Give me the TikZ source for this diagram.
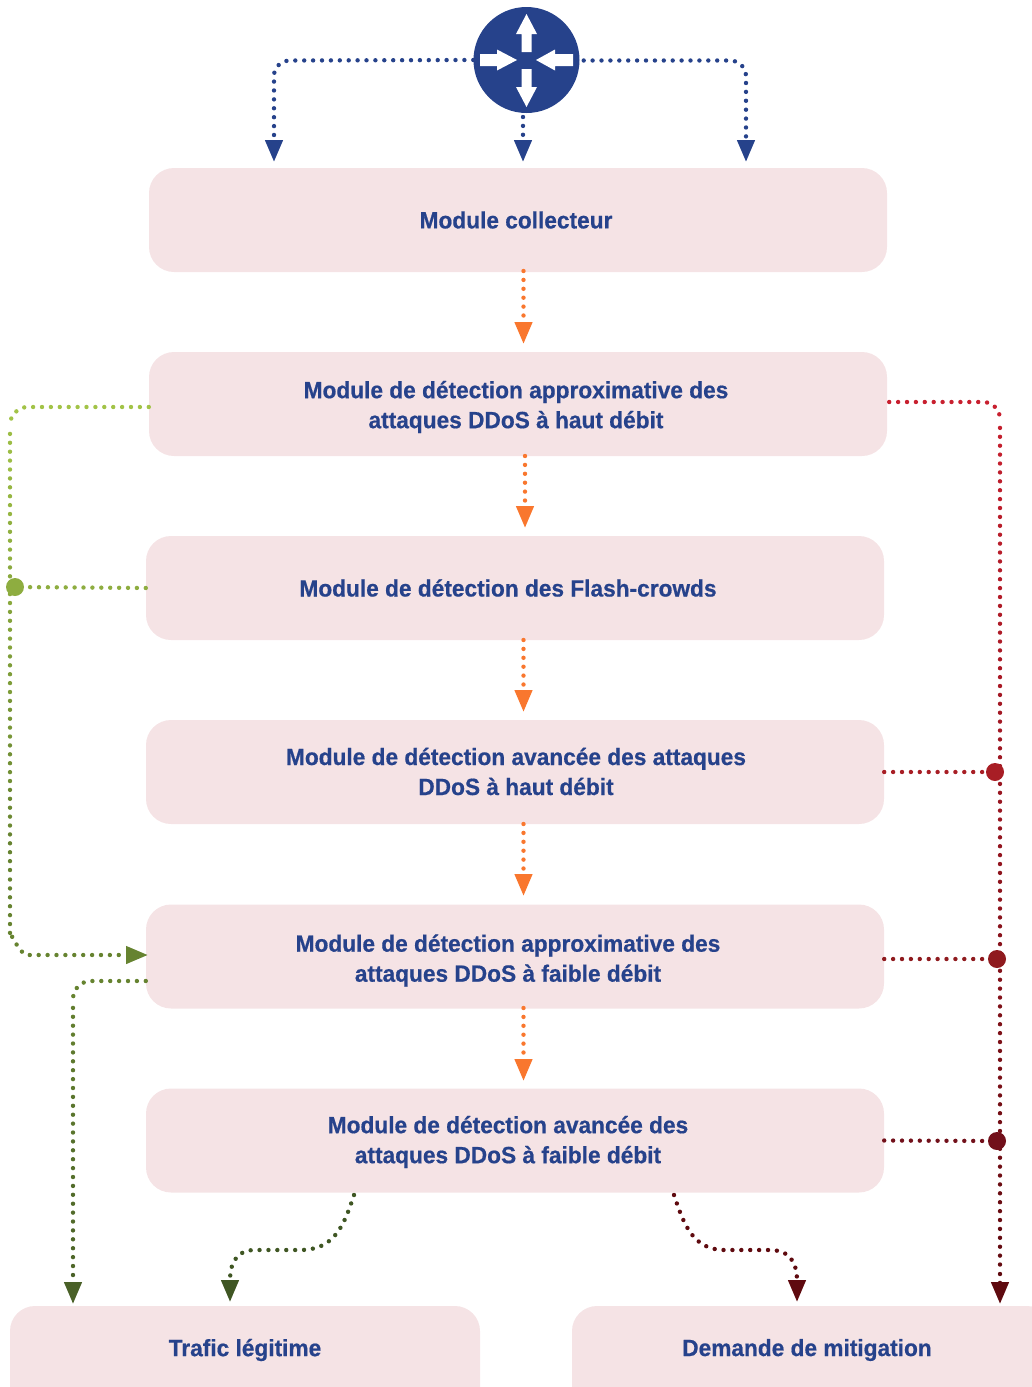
\documentclass[tikz,border=0pt]{standalone}
\usepackage{fontspec}
\setmainfont[BoldFeatures={FakeStretch=0.965,FakeBold=0.6}]{Liberation Sans}
\usetikzlibrary{arrows.meta}
\definecolor{bluec}{HTML}{26428B}
\definecolor{boxc}{HTML}{F5E3E5}
\definecolor{orangec}{HTML}{F9772E}
\definecolor{g1}{HTML}{A2C347}
\definecolor{g2}{HTML}{8EAD40}
\definecolor{g4}{HTML}{668330}
\definecolor{g6}{HTML}{4A6128}
\definecolor{g7}{HTML}{3F5623}
\definecolor{r1}{HTML}{C8202F}
\definecolor{r2}{HTML}{A81E25}
\definecolor{r3}{HTML}{8F1A1E}
\definecolor{r4}{HTML}{72101A}
\definecolor{r5}{HTML}{5F0A0F}
\tikzset{
  x=1pt,y=-1pt,
  modbox/.style={fill=boxc,draw=none,rounded corners=25pt,minimum width=738pt,minimum height=104pt,inner sep=0pt},
  endbox/.style={fill=boxc,draw=none,rounded corners=25pt,inner sep=0pt},
  lab/.style={text=bluec,font=\bfseries\fontsize{23.5}{30}\selectfont,align=center,inner sep=0pt},
  dots/.style={line width=4.4pt,line cap=round,dash pattern=on 0pt off 8.9pt},
  tip/.style={-{Triangle[width=17pt,length=22pt]}},
  junc/.style={circle,inner sep=0pt,minimum size=18pt,draw=none},
  wh/.style={fill=white,draw=none}
}
\begin{document}
\begin{tikzpicture}
\useasboundingbox (0,0) rectangle (1032,1387);
\begin{scope}
\clip (0,0) rectangle (1032,1387);
\node[modbox] (m1) at (518,220) {};
\node[modbox] (m2) at (518,404) {};
\node[modbox] (m3) at (515,588) {};
\node[modbox] (m4) at (515,772) {};
\node[modbox] (m5) at (515,956.5) {};
\node[modbox] (m6) at (515,1140.5) {};
\node[endbox,minimum width=470pt,minimum height=108pt] (t1) at (245,1360) {};
\node[endbox,minimum width=480pt,minimum height=108pt] (t2) at (812,1360) {};
\end{scope}
\node[lab] (l1) at (516,220) {Module collecteur};
\node[lab] (l2) at (516,407) {Module de détection approximative des\\attaques DDoS à haut débit};
\node[lab] (l3) at (508,588) {Module de détection des Flash-crowds};
\node[lab] (l4) at (516,771.5) {Module de détection avancée des attaques\\DDoS à haut débit};
\node[lab] (l5) at (508,960.5) {Module de détection approximative des\\attaques DDoS à faible débit};
\node[lab] (l6) at (508,1142) {Module de détection avancée des\\attaques DDoS à faible débit};
\node[lab] (l7) at (245,1350) {Trafic légitime};
\node[lab] (l8) at (807,1350) {Demande de mitigation};
% router
\node[circle,fill=bluec,inner sep=0pt,minimum size=106pt] (router) at (526.5,60) {};
\fill[wh] (526.5,14) -- (537,34) -- (531.5,34) -- (531.5,52) -- (521.5,52) -- (521.5,34) -- (516,34) -- cycle;
\fill[wh] (526.5,107) -- (537,87) -- (531.5,87) -- (531.5,69) -- (521.5,69) -- (521.5,87) -- (516,87) -- cycle;
\fill[wh] (517,60) -- (497,49.5) -- (497,54) -- (480,54) -- (480,66) -- (497,66) -- (497,70.5) -- cycle;
\fill[wh] (536,60) -- (555,49.5) -- (555,54) -- (573,54) -- (573,66) -- (555,66) -- (555,70.5) -- cycle;
% free ends
\coordinate (a1) at (274,162);
\coordinate (a2) at (523,162);
\coordinate (a3) at (746,162);
% router connectors
\draw[bluec,dots,tip] (router.west) -- (290,60.5) to[out=180,in=90] (274,76) -- (a1);
\draw[bluec,dots,tip] (523,117) -- (a2);
\draw[bluec,dots,tip] (router.east) ++(4,0.5) -- (730,60.5) to[out=0,in=90] (746,76) -- (a3);
% orange
\draw[orangec,dots,tip] (523.5,271) -- (523.5,344);
\draw[orangec,dots,tip] (525,456) -- (525,528);
\draw[orangec,dots,tip] (523.5,640) -- (523.5,712);
\draw[orangec,dots,tip] (523.5,824) -- (523.5,896);
\draw[orangec,dots,tip] (523.5,1008) -- (523.5,1081);
% left green line: colour runs g1 -> g4 in short runs of dots
\draw[g1,dots] (m2.west|-0,407) -- (28,407) to[out=180,in=90] (10,425);
\foreach \k in {1,...,10}{
  \pgfmathsetmacro\pc{100-10*\k}
  \draw[g1!\pc!g4,dots] (10,425-35.6+44.5*\k) -- (10,425+44.5*\k);
}
\draw[g4,dots,tip] (10,879.5) -- (10,937) to[out=90,in=180] (28,955) -- (148,955);
\node[junc,fill=g2] (jg) at (15,587) {};
\draw[g2,dots] (m3.west) -- (jg);
% lower left
\draw[g4,dots] (m5.west|-0,981) -- (91,981) to[out=180,in=90] (73,999);
\foreach \k in {1,...,6}{
  \pgfmathsetmacro\pc{100-14*\k}
  \draw[g4!\pc!g6,dots] (73,999-35.6+44.5*\k) -- (73,999+44.5*\k);
}
\draw[g6,dots,tip] (73,1275) -- (73,1304);
% m6 to t1
\draw[g7,dots,tip] (354,1195) .. controls (344,1225) and (335,1250) .. (300,1250) -- (255,1250) .. controls (232,1250) and (230,1270) .. (230,1302);
% m6 to t2
\draw[r5,dots,tip] (674,1195) .. controls (684,1225) and (693,1250) .. (725,1250) -- (770,1250) .. controls (795,1250) and (797,1270) .. (797,1302);
% right red line: colour runs r1 -> r5 in short runs of dots
\draw[r1,dots] (m2.east|-0,402) ++(2,0) -- (983,402) to[out=0,in=90] (1000,419);
\foreach \k in {1,...,19}{
  \pgfmathsetmacro\pc{100-5*\k}
  \draw[r1!\pc!r5,dots] (1000,419-35.6+44.5*\k) -- (1000,419+44.5*\k);
}
\draw[r5,dots,tip] (1000,1274) -- (1000,1304);
\node[junc,fill=r2] (j1) at (995,772) {};
\draw[r2,dots] (m4.east) -- (j1);
\node[junc,fill=r3] (j2) at (997,959) {};
\draw[r3,dots] (m5.east|-0,959) -- (j2);
\node[junc,fill=r4] (j3) at (997,1141) {};
\draw[r4,dots] (m6.east) -- (j3);
\end{tikzpicture}
\end{document}
